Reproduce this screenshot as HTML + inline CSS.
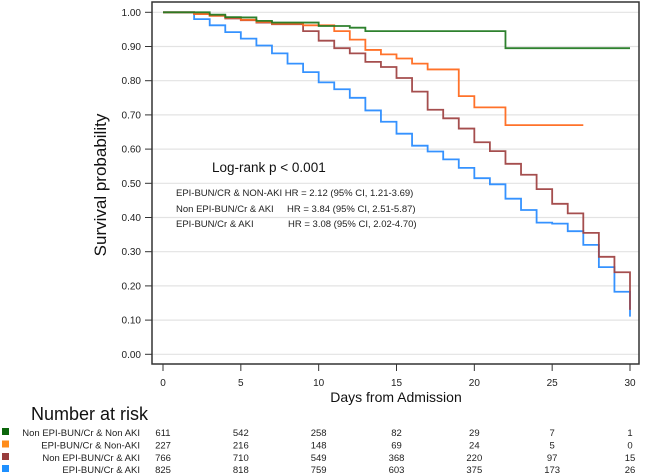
<!DOCTYPE html>
<html><head><meta charset="utf-8"><style>
html,body{margin:0;padding:0;background:#fff}
svg{display:block;font-family:"Liberation Sans",Arial,sans-serif}
</style></head><body>
<svg id="chart" width="669" height="476" viewBox="0 0 669 476" xmlns="http://www.w3.org/2000/svg">
<g id="grid"></g>
<g id="curves"></g>
<rect x="152" y="2" width="487" height="362" fill="none" stroke="#333" stroke-width="1.5"/>
<g id="yaxis"></g>
<g id="xaxis"></g>
<text transform="translate(106,185) rotate(-90)" text-anchor="middle" font-size="17" fill="#111">Survival probability</text>
<text x="396" y="402" text-anchor="middle" font-size="14" fill="#111">Days from Admission</text>
<text x="212" y="172" font-size="13.5" fill="#111">Log-rank p &lt; 0.001</text>
<g font-size="9.5" fill="#222">
<text x="176" y="196">EPI-BUN/CR &amp; NON-AKI HR = 2.12 (95% CI, 1.21-3.69)</text>
<text x="176" y="212">Non EPI-BUN/Cr &amp; AKI</text>
<text x="287" y="212">HR = 3.84 (95% CI, 2.51-5.87)</text>
<text x="176" y="227">EPI-BUN/Cr &amp; AKI</text>
<text x="288" y="227">HR = 3.08 (95% CI, 2.02-4.70)</text>
</g>
<text x="31" y="420" font-size="18" fill="#111">Number at risk</text>
<g id="risk"></g>
</svg>
<script>
const yTicks = [0,0.1,0.2,0.3,0.4,0.5,0.6,0.7,0.8,0.9,1.0];
const xTicks = [0,5,10,15,20,25,30];
const seriesNames = ["Non EPI-BUN/Cr & Non AKI","EPI-BUN/Cr & Non-AKI","Non EPI-BUN/Cr & AKI","EPI-BUN/Cr & AKI"];
const seriesColors = ["#237a23","#ff6a1f","#a04545","#2a8cff"];
const squareColors = ["#0b650b","#ff8c1a","#983c3c","#1e90ff"];
const greenDays = [0,3,4,5,6,7,10,12,13,22,30];
const greenSurv = [1,0.993,0.986,0.985,0.975,0.97,0.96,0.955,0.945,0.895,0.895];
const orangeDays = [0,2,3,4,5,6,7,9,11,12,13,14,15,16,17,19,20,22,27];
const orangeSurv = [1,0.995,0.99,0.985,0.978,0.972,0.967,0.962,0.945,0.92,0.89,0.877,0.865,0.85,0.833,0.755,0.722,0.67,0.67];
const brownDays = [0,2,3,4,5,6,7,9,10,11,12,13,14,15,16,17,18,19,20,21,22,23,24,25,26,27,28,29,30];
const brownSurv = [1,0.995,0.99,0.982,0.977,0.97,0.965,0.945,0.917,0.895,0.88,0.855,0.84,0.808,0.768,0.715,0.69,0.66,0.62,0.594,0.557,0.525,0.483,0.44,0.412,0.355,0.285,0.24,0.13];
const blueDays = [0,2,3,4,5,6,7,8,9,10,11,12,13,14,15,16,17,18,19,20,21,22,23,24,25,26,27,28,29,30];
const blueSurv = [1,0.98,0.962,0.942,0.923,0.903,0.88,0.85,0.825,0.795,0.775,0.75,0.713,0.68,0.645,0.61,0.593,0.57,0.545,0.515,0.497,0.455,0.422,0.385,0.382,0.36,0.32,0.255,0.183,0.11];
const riskGreen = [611,542,258,82,29,7,1];
const riskOrange = [227,216,148,69,24,5,0];
const riskBrown = [766,710,549,368,220,97,15];
const riskBlue = [825,818,759,603,375,173,26];

const X = d => 163 + d * (630 - 163) / 30;
const Y = s => 354.3 - s * 342;
const NS = "http://www.w3.org/2000/svg";
function mk(tag, attrs, parent){const e=document.createElementNS(NS,tag);for(const k in attrs)e.setAttribute(k,attrs[k]);parent.appendChild(e);return e;}

const grid=document.getElementById('grid'), yaxis=document.getElementById('yaxis'), xaxis=document.getElementById('xaxis');
yTicks.forEach(t=>{
  const g=mk('line',{x1:152,x2:639,y1:Y(t),y2:Y(t),stroke:'#e3e3e3','stroke-width':1.2},grid);
  
  
  const tk=mk('line',{x1:145,x2:152,y1:Y(t),y2:Y(t),stroke:'#333','stroke-width':1},yaxis);
  
  
  const tx=mk('text',{x:141,y:Y(t)+3.5,'text-anchor':'end','font-size':10,fill:'#222'},yaxis);
  tx.textContent=t.toFixed(2);
  
  
});
xTicks.forEach(t=>{
  const tk=mk('line',{x1:X(t),x2:X(t),y1:364,y2:371,stroke:'#333','stroke-width':1},xaxis);
  
  
  const tx=mk('text',{x:X(t),y:386,'text-anchor':'middle','font-size':10,fill:'#222'},xaxis);
  tx.textContent=t;
  
  
});

const curves=document.getElementById('curves');
function stepPath(days,surv){
  let d='M'+X(days[0])+','+Y(surv[0]);
  for(let i=1;i<days.length;i++){d+=' H'+X(days[i])+' V'+Y(surv[i]);}
  return d;
}
const allDays=[greenDays,orangeDays,brownDays,blueDays];
const allSurv=[greenSurv,orangeSurv,brownSurv,blueSurv];
const curveNames=['curve-non-epi-non-aki','curve-epi-non-aki','curve-non-epi-aki','curve-epi-aki'];
[3,2,1,0].forEach(i=>{
  const p=mk('path',{d:stepPath(allDays[i],allSurv[i]),fill:'none',stroke:seriesColors[i],'stroke-width':1.8,'stroke-opacity':0.95},curves);
  
  
});

const risk=document.getElementById('risk');
const riskRows=[riskGreen,riskOrange,riskBrown,riskBlue];
const rowY=[436,448.5,461,473];
riskRows.forEach((row,i)=>{
  const sq=mk('rect',{x:2,y:rowY[i]-8,width:7,height:7,fill:squareColors[i]},risk);
  
  
  const lb=mk('text',{x:140,y:rowY[i],'text-anchor':'end','font-size':9.5,fill:'#222'},risk);
  lb.textContent=seriesNames[i];
  
  
  row.forEach((v,j)=>{
    const t=mk('text',{x:X(xTicks[j]),y:rowY[i],'text-anchor':'middle','font-size':9.5,fill:'#222'},risk);
    t.textContent=v;
    
    
  });
});
</script>
</body></html>
